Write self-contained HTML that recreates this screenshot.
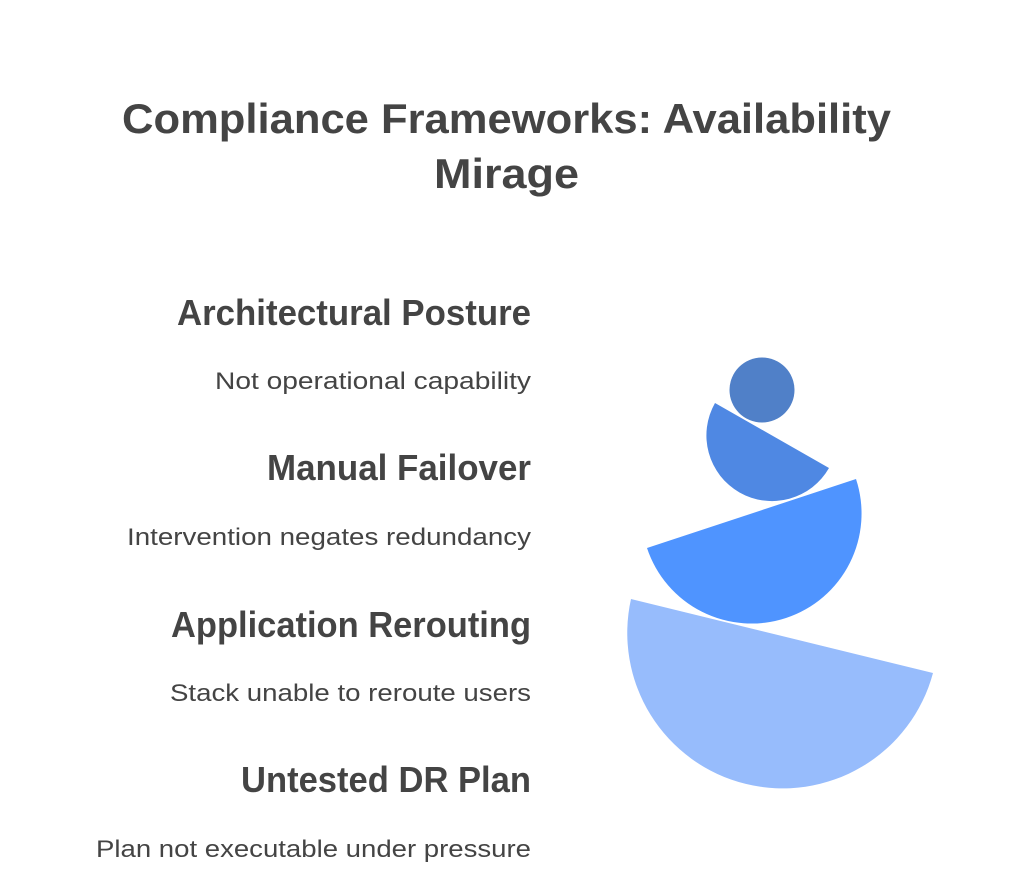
<!DOCTYPE html>
<html><head><meta charset="utf-8"><style>
html,body{margin:0;padding:0;background:#fff;width:1024px;height:875px;overflow:hidden}
svg{display:block}
text{font-family:"Liberation Sans",Arial,sans-serif;fill:#444}
.h{font-weight:bold;font-size:36px}
.s{font-size:24px}
.t{font-weight:bold;font-size:42px}
</style></head><body>
<svg width="1024" height="875" viewBox="0 0 1024 875">
<text class="t" x="122" y="133" textLength="769" lengthAdjust="spacingAndGlyphs">Compliance Frameworks: Availability</text>
<text class="t" x="434" y="188" textLength="145" lengthAdjust="spacingAndGlyphs">Mirage</text>

<text class="h" x="177" y="325" textLength="354" lengthAdjust="spacingAndGlyphs">Architectural Posture</text>
<text class="s" x="215" y="389" textLength="316" lengthAdjust="spacingAndGlyphs">Not operational capability</text>
<text class="h" x="267" y="480" textLength="264" lengthAdjust="spacingAndGlyphs">Manual Failover</text>
<text class="s" x="127" y="545" textLength="404" lengthAdjust="spacingAndGlyphs">Intervention negates redundancy</text>
<text class="h" x="171" y="637" textLength="360" lengthAdjust="spacingAndGlyphs">Application Rerouting</text>
<text class="s" x="170" y="701" textLength="361" lengthAdjust="spacingAndGlyphs">Stack unable to reroute users</text>
<text class="h" x="241" y="792" textLength="290" lengthAdjust="spacingAndGlyphs">Untested DR Plan</text>
<text class="s" x="96" y="857" textLength="435" lengthAdjust="spacingAndGlyphs">Plan not executable under pressure</text>

<circle cx="762" cy="390" r="32.5" fill="#5080C8"/>
<path d="M715 403 A65.6 65.6 0 0 0 829 468 Z" fill="#4F88E3"/>
<path d="M647 548 A110 110 0 0 0 856 479 Z" fill="#4F94FF"/>
<path d="M631 599 A155.5 155.5 0 0 0 933 673 Z" fill="#97BCFC"/>
</svg>
</body></html>
